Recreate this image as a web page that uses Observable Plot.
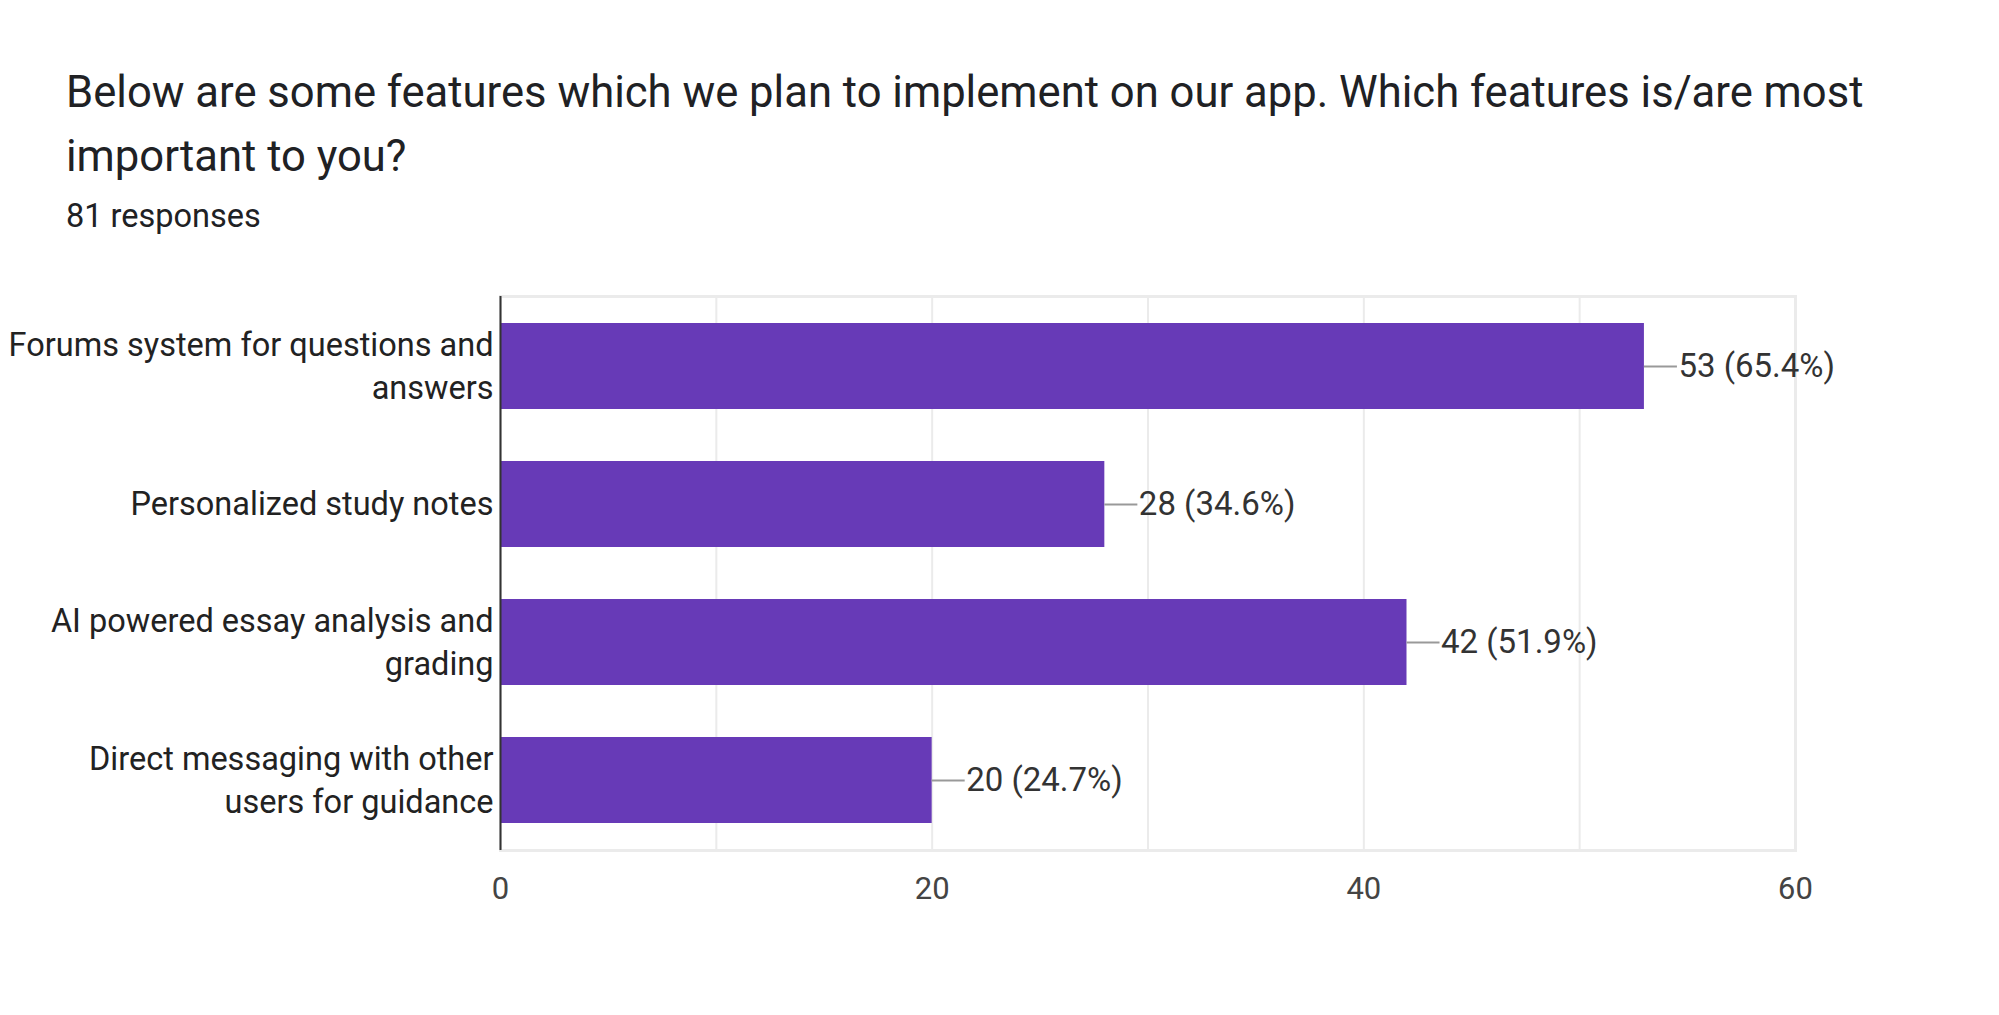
<!DOCTYPE html>
<html>
<head>
<meta charset="utf-8">
<script src="https://cdn.jsdelivr.net/npm/d3@7"></script>
<script src="https://cdn.jsdelivr.net/npm/@observablehq/plot@0.6"></script>
<style>
  html, body { margin: 0; padding: 0; background: #fff; }
  body { width: 1999px; height: 1015px; position: relative; overflow: hidden; font-family: Roboto, sans-serif; }
  #title { position: absolute; left: 66px; top: 61px; width: 1845px; font-size: 43.6px; line-height: 64px; color: #202124; }
  #sub { position: absolute; left: 66px; top: 196px; font-size: 32.5px; line-height: 40px; color: #202124; }
  #chart { position: absolute; left: 0; top: 250px; }
</style>
</head>
<body>
<div id="title">Below are some features which we plan to implement on our app. Which features is/are most important to you?</div>
<div id="sub">81 responses</div>
<div id="chart"></div>
<script>
const categories = [
  "Forums system for questions and answers",
  "Personalized study notes",
  "AI powered essay analysis and grading",
  "Direct messaging with other users for guidance"
];
const categoryLines = [
  "Forums system for questions and\nanswers",
  "Personalized study notes",
  "AI powered essay analysis and\ngrading",
  "Direct messaging with other\nusers for guidance"
];
const counts = [53, 28, 42, 20];
const percents = ["65.4%", "34.6%", "51.9%", "24.7%"];
const xTicks = [0, 20, 40, 60];
const gridTicks = [0, 10, 20, 30, 40, 50, 60];

const data = categories.map((c, i) => ({cat: c, value: counts[i], label: `${counts[i]} (${percents[i]})`}));
const lineOf = new Map(categories.map((c, i) => [c, categoryLines[i]]));

const chart = Plot.plot({
  width: 1999,
  height: 765,
  marginTop: 46,
  marginBottom: 165,
  marginLeft: 500,
  marginRight: 204,
  style: {fontFamily: "Roboto, sans-serif", background: "transparent"},
  x: {domain: [0, 60], label: null},
  y: {domain: categories, paddingInner: 0.38, paddingOuter: 0.195, label: null},
  marks: [
    Plot.gridX(gridTicks, {stroke: "#ebebeb", strokeOpacity: 1, strokeWidth: 2}),
    Plot.frame({stroke: "#ebebeb", strokeWidth: 3}),
    Plot.barX(data, {y: "cat", x: "value", fill: "#673ab7"}),
    Plot.ruleY(data, {y: "cat", x1: "value", x2: d => d.value + 1.53, stroke: "#999", strokeWidth: 2}),
    Plot.text(data, {y: "cat", x: "value", text: "label", dx: 34, textAnchor: "start", fontSize: 33, fill: "#333"}),
    Plot.ruleX([0], {stroke: "#333", strokeWidth: 2}),
    Plot.axisX(xTicks, {tickSize: 0, tickPadding: 26, fontSize: 31, fill: "#444", label: null}),
    Plot.axisY({tickSize: 0, tickPadding: 7, fontSize: 32.5, fill: "#222", lineHeight: 1.32, dy: -3, label: null, tickFormat: d => lineOf.get(d)})
  ]
});
document.getElementById("chart").appendChild(chart);
</script>
</body>
</html>
